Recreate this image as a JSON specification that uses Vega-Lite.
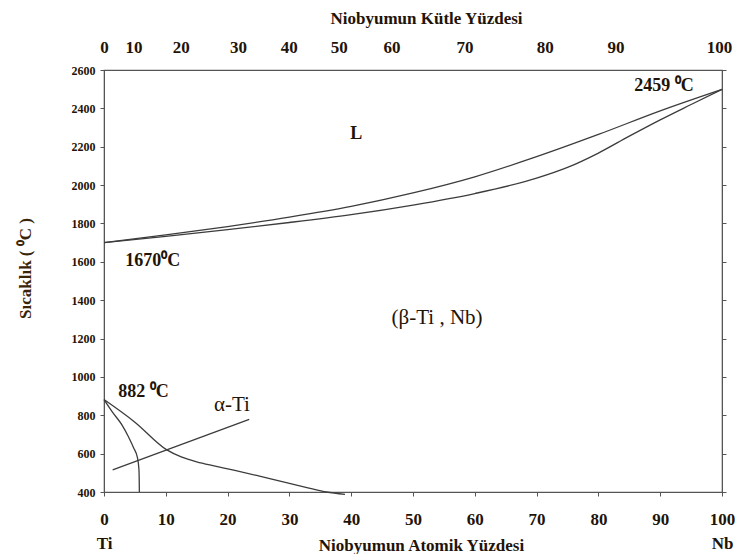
{
  "$schema": "https://vega.github.io/schema/vega-lite/v6.json",
  "width": 618,
  "height": 422,
  "autosize": "none",
  "padding": {"left": 104, "top": 70, "right": 14, "bottom": 62},
  "background": "white",
  "config": {
    "view": {"stroke": "#555555", "strokeWidth": 1.2},
    "font": "Liberation Serif",
    "axis": {
      "grid": false,
      "domainColor": "#555555",
      "tickColor": "#555555",
      "labelFont": "Liberation Serif",
      "titleFont": "Liberation Serif",
      "labelColor": "#1f1408",
      "titleColor": "#1f1408",
      "labelFlush": false,
      "labelOverlap": false,
      "labelBound": false
    }
  },
  "datasets": {
    "curves": [
      {"curve": "liq", "i": 0, "x": 0, "T": 1700},
      {"curve": "liq", "i": 1, "x": 10, "T": 1740},
      {"curve": "liq", "i": 2, "x": 20, "T": 1784},
      {"curve": "liq", "i": 3, "x": 30, "T": 1833},
      {"curve": "liq", "i": 4, "x": 40, "T": 1889},
      {"curve": "liq", "i": 5, "x": 50, "T": 1959},
      {"curve": "liq", "i": 6, "x": 60, "T": 2043},
      {"curve": "liq", "i": 7, "x": 70, "T": 2148},
      {"curve": "liq", "i": 8, "x": 80, "T": 2264},
      {"curve": "liq", "i": 9, "x": 90, "T": 2387},
      {"curve": "liq", "i": 10, "x": 100, "T": 2499},
      {"curve": "sol", "i": 0, "x": 0, "T": 1700},
      {"curve": "sol", "i": 1, "x": 10, "T": 1733},
      {"curve": "sol", "i": 2, "x": 20, "T": 1768},
      {"curve": "sol", "i": 3, "x": 30, "T": 1805},
      {"curve": "sol", "i": 4, "x": 40, "T": 1846},
      {"curve": "sol", "i": 5, "x": 50, "T": 1896},
      {"curve": "sol", "i": 6, "x": 60, "T": 1956},
      {"curve": "sol", "i": 7, "x": 70, "T": 2036},
      {"curve": "sol", "i": 8, "x": 75, "T": 2092},
      {"curve": "sol", "i": 9, "x": 80, "T": 2167},
      {"curve": "sol", "i": 10, "x": 85, "T": 2255},
      {"curve": "sol", "i": 11, "x": 90, "T": 2340},
      {"curve": "sol", "i": 12, "x": 95, "T": 2420},
      {"curve": "sol", "i": 13, "x": 100, "T": 2499},
      {"curve": "alpha", "i": 0, "x": 0, "T": 882},
      {"curve": "alpha", "i": 1, "x": 1.4, "T": 815},
      {"curve": "alpha", "i": 2, "x": 2.9, "T": 750},
      {"curve": "alpha", "i": 3, "x": 4.0, "T": 685},
      {"curve": "alpha", "i": 4, "x": 4.8, "T": 630},
      {"curve": "alpha", "i": 5, "x": 5.4, "T": 580},
      {"curve": "alpha", "i": 6, "x": 5.65, "T": 520},
      {"curve": "alpha", "i": 7, "x": 5.7, "T": 460},
      {"curve": "alpha", "i": 8, "x": 5.72, "T": 400},
      {"curve": "beta", "i": 0, "x": 0, "T": 882},
      {"curve": "beta", "i": 1, "x": 5, "T": 764},
      {"curve": "beta", "i": 2, "x": 10.1, "T": 621},
      {"curve": "beta", "i": 3, "x": 12.5, "T": 583},
      {"curve": "beta", "i": 4, "x": 15, "T": 557},
      {"curve": "beta", "i": 5, "x": 18, "T": 535},
      {"curve": "beta", "i": 6, "x": 21, "T": 514},
      {"curve": "beta", "i": 7, "x": 25, "T": 484},
      {"curve": "beta", "i": 8, "x": 29, "T": 453},
      {"curve": "beta", "i": 9, "x": 33, "T": 422},
      {"curve": "beta", "i": 10, "x": 36, "T": 400},
      {"curve": "beta", "i": 11, "x": 39, "T": 388},
      {"curve": "leader", "i": 0, "x": 1.4, "T": 515},
      {"curve": "leader", "i": 1, "x": 23.5, "T": 779}
    ],
    "boldLabels": [
      {"x": 6.4, "T": 921, "text": "882 ⁰C"},
      {"x": 7.9, "T": 1605, "text": "1670⁰C"},
      {"x": 90.6, "T": 2517, "text": "2459 ⁰C"},
      {"x": 40.8, "T": 2266, "text": "L"}
    ],
    "plainLabels": [
      {"x": 53.9, "T": 1307, "text": "(β-Ti , Nb)"},
      {"x": 20.7, "T": 853, "text": "α-Ti"}
    ]
  },
  "layer": [
    {
      "data": {"name": "curves"},
      "mark": {"type": "line", "interpolate": "monotone", "color": "#3c3c3c", "strokeWidth": 1.3},
      "encoding": {
        "x": {
          "field": "x", "type": "quantitative",
          "scale": {"domain": [0, 100], "nice": false, "zero": false},
          "axis": {
            "orient": "bottom",
            "values": [0, 10, 20, 30, 40, 50, 60, 70, 80, 90, 100],
            "tickSize": 4,
            "labelPadding": 15,
            "labelFontSize": 17,
            "labelFontWeight": "bold",
            "labelLineHeight": 24,
            "labelExpr": "datum.value == 0 ? ['0', 'Ti'] : datum.value == 100 ? ['100', 'Nb'] : datum.label",
            "title": "Niobyumun Atomik Yüzdesi",
            "titleFontSize": 17,
            "titleFontWeight": "bold",
            "titleX": 317,
            "titleY": 53,
            "titleBaseline": "middle",
            "titleAlign": "center"
          }
        },
        "y": {
          "field": "T", "type": "quantitative",
          "scale": {"domain": [400, 2600], "nice": false, "zero": false},
          "axis": {
            "orient": "left",
            "values": [400, 600, 800, 1000, 1200, 1400, 1600, 1800, 2000, 2200, 2400, 2600],
            "format": "d",
            "tickSize": 4,
            "labelPadding": 5,
            "labelFontSize": 12,
            "labelFontWeight": "bold",
            "title": "Sıcaklık ( ⁰C )",
            "titleFontSize": 17,
            "titleFontWeight": "bold",
            "titleColor": "#3a2508",
            "titleX": -79,
            "titleY": 198,
            "titleAlign": "center",
            "titleBaseline": "middle"
          }
        },
        "detail": {"field": "curve"},
        "order": {"field": "i", "type": "quantitative"}
      }
    },
    {
      "data": {"name": "boldLabels"},
      "mark": {"type": "text", "font": "Liberation Serif", "fontWeight": "bold", "fontSize": 18, "color": "#1f1408", "align": "center", "baseline": "middle"},
      "encoding": {
        "x": {
          "field": "x", "type": "quantitative",
          "scale": {"domain": [0, 100], "nice": false, "zero": false},
          "axis": {
            "orient": "top",
            "values": [0, 4.77, 12.41, 21.68, 29.89, 37.98, 46.52, 58.35, 71.33, 82.78, 99.5],
            "ticks": false,
            "domain": false,
            "labelPadding": 14,
            "labelFontSize": 17,
            "labelFontWeight": "bold",
            "labelExpr": "['0','10','20','30','40','50','60','70','80','90','100'][indexof([0, 4.77, 12.41, 21.68, 29.89, 37.98, 46.52, 58.35, 71.33, 82.78, 99.5], datum.value)]",
            "title": "Niobyumun Kütle Yüzdesi",
            "titleFontSize": 17,
            "titleFontWeight": "bold",
            "titleX": 322,
            "titleY": -52,
            "titleBaseline": "middle",
            "titleAlign": "center"
          }
        },
        "y": {
          "field": "T", "type": "quantitative",
          "scale": {"domain": [400, 2600], "nice": false, "zero": false},
          "axis": {
            "orient": "right",
            "values": [400, 600, 800, 1000, 1200, 1400, 1600, 1800, 2000, 2200, 2400, 2600],
            "tickSize": 4,
            "labels": false,
            "title": null
          }
        },
        "text": {"field": "text"}
      }
    },
    {
      "data": {"name": "plainLabels"},
      "mark": {"type": "text", "font": "Liberation Serif", "fontWeight": "normal", "fontSize": 21, "color": "#1f1408", "align": "center", "baseline": "middle"},
      "encoding": {
        "x": {"field": "x", "type": "quantitative", "axis": null},
        "y": {"field": "T", "type": "quantitative", "axis": null},
        "text": {"field": "text"}
      }
    }
  ],
  "resolve": {"axis": {"x": "independent", "y": "independent"}}
}
